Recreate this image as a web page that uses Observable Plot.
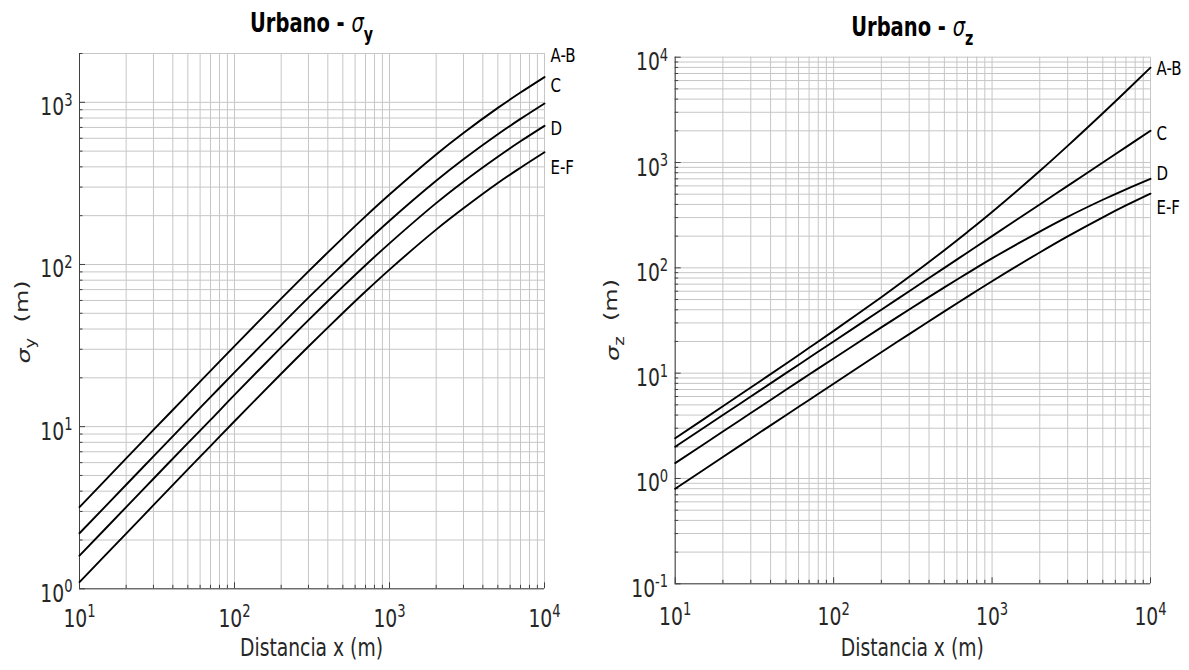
<!DOCTYPE html>
<html><head><meta charset="utf-8">
<script src="https://cdn.jsdelivr.net/npm/d3@7"></script>
<script src="https://cdn.jsdelivr.net/npm/@observablehq/plot@0.6"></script>
<style>
html,body{margin:0;padding:0;background:#fff;}
#fig{position:relative;width:1189px;height:670px;display:flex;overflow:hidden;}
#fig svg{display:block;flex:none;}
</style></head><body><div id="fig"></div>
<script>
// ---- data ----
const distances = [10, 20, 30, 50, 70, 100, 200, 300, 500, 700, 1000, 2000, 3000, 5000, 7000, 10000];
const classes = ["A-B", "C", "D", "E-F"];

const sigmaY_AB = [3.19, 6.37, 9.54, 15.8, 22.1, 31.4, 61.6, 90.7, 146, 198, 270, 477, 647, 924, 1149, 1431];
const sigmaY_C  = [2.20, 4.38, 6.56, 10.9, 15.2, 21.6, 42.3, 62.4, 100, 136, 186, 328, 445, 635, 790, 984];
const sigmaY_D  = [1.60, 3.19, 4.77, 7.92, 11.0, 15.7, 30.8, 45.4, 73.0, 99.0, 135, 239, 324, 462, 575, 716];
const sigmaY_EF = [1.10, 2.19, 3.28, 5.45, 7.59, 10.8, 21.2, 31.2, 50.2, 68.1, 93.0, 164, 222, 318, 395, 492];

const sigmaZ_AB = [2.41, 4.85, 7.31, 12.3, 17.4, 25.2, 52.6, 82.1, 147, 219, 339, 831, 1440, 2940, 4750, 7960];
const sigmaZ_C  = [2.00, 4.00, 6.00, 10.0, 14.0, 20.0, 40.0, 60.0, 100, 140, 200, 400, 600, 1000, 1400, 2000];
const sigmaZ_D  = [1.40, 2.79, 4.18, 6.95, 9.70, 13.8, 27.2, 40.2, 65.3, 89.1, 123, 221, 305, 443, 557, 700];
const sigmaZ_EF = [0.80, 1.60, 2.40, 3.99, 5.57, 7.94, 15.8, 23.5, 38.6, 53.3, 74.6, 140, 199, 302, 391, 506];

// curve-end label heights (data units)
const labelY_left  = [1936, 1267, 689, 397];
const labelY_right = [7820, 1884, 787, 374];

// axis domains and tick labels
const xDomain = [10, 10000];
const yDomainLeft = [1, 2000];
const yDomainRight = [0.1, 10000];
const xTicks = [10, 100, 1000, 10000];
const yTicksLeft = [1, 10, 100, 1000];
const yTicksRight = [0.1, 1, 10, 100, 1000, 10000];

const FONT = "'DejaVu Sans', sans-serif";
const SQUISH = 0.75;

function logGrid(domain) {
  const out = [];
  const k0 = Math.floor(Math.log10(domain[0]) + 1e-9), k1 = Math.ceil(Math.log10(domain[1]) - 1e-9);
  for (let k = k0; k <= k1; k++) for (let m = 1; m <= 9; m++) {
    const v = +(m * Math.pow(10, k)).toPrecision(3);
    if (v >= domain[0] * 0.9999 && v <= domain[1] * 1.0001) out.push(v);
  }
  return out;
}
const expFmt = d => "10^" + Math.round(Math.log10(d));

function panel(cfg) {
  const {width, height, ml, mr, mt, mb, yDomain, yTicks, series, labelY, xPad} = cfg;
  const fw = width - ml - mr, fh = height - mt - mb;
  const rows = [];
  series.forEach((vals, i) => vals.forEach((v, j) => rows.push({cls: classes[i], x: distances[j], v})));
  const xGrid = logGrid(xDomain), yGrid = logGrid(yDomain);
  const xMinor = xGrid.filter(d => !xTicks.includes(d));
  const yMinor = yGrid.filter(d => !yTicks.includes(d));
  const labels = classes.map((c, i) => ({c, y: labelY[i]}));
  const axisCol = "#404040";
  return Plot.plot({
    width, height, marginLeft: ml, marginRight: mr, marginTop: mt, marginBottom: mb,
    style: {fontFamily: FONT, fontSize: "25px", color: "#262626", background: "#fff", overflow: "visible"},
    x: {type: "log", domain: xDomain},
    y: {type: "log", domain: yDomain},
    marks: [
      Plot.ruleX(xGrid, {stroke: "#c6c6c6", strokeWidth: 1}),
      Plot.ruleY(yGrid, {stroke: "#c6c6c6", strokeWidth: 1}),
      Plot.ruleX([xDomain[0]], {stroke: axisCol, strokeWidth: 1}),
      Plot.ruleY([yDomain[0]], {stroke: axisCol, strokeWidth: 1}),
      Plot.tickY(yTicks, {y: d => d, insetRight: fw - 6, stroke: axisCol}),
      Plot.tickY(yMinor, {y: d => d, insetRight: fw - 3.5, stroke: axisCol}),
      Plot.tickX(xTicks, {x: d => d, insetTop: fh - 6, stroke: axisCol}),
      Plot.tickX(xMinor, {x: d => d, insetTop: fh - 3.5, stroke: axisCol}),
      Plot.axisX({anchor: "bottom", ticks: xTicks, tickSize: 0, tickPadding: xPad, tickFormat: expFmt, label: null, fill: "#262626", fontSize: 25}),
      Plot.axisY({anchor: "left", ticks: yTicks, tickSize: 0, tickPadding: 7, dy: 5, tickFormat: expFmt, label: null, fill: "#262626", fontSize: 25}),
      Plot.line(rows, {x: "x", y: "v", z: "cls", stroke: "#000", strokeWidth: 1.9, curve: "catmull-rom"}),
      Plot.text(labels, {x: () => xDomain[1], y: "y", text: "c", textAnchor: "start", dx: 6, fontSize: 20, fill: "#000"})
    ]
  });
}

const fig = document.getElementById("fig");
const left = panel({width: 595, height: 670, ml: 79, mr: 51, mt: 53, mb: 81.7,
  yDomain: yDomainLeft, yTicks: yTicksLeft, series: [sigmaY_AB, sigmaY_C, sigmaY_D, sigmaY_EF], labelY: labelY_left, xPad: 20});
const right = panel({width: 594, height: 670, ml: 79.7, mr: 39, mt: 56.7, mb: 86.7,
  yDomain: yDomainRight, yTicks: yTicksRight, series: [sigmaZ_AB, sigmaZ_C, sigmaZ_D, sigmaZ_EF], labelY: labelY_right, xPad: 23});
fig.appendChild(left);
fig.appendChild(right);

function decorate(svgNode, o) {
  const svg = d3.select(svgNode);
  // superscript exponents in tick labels
  svg.selectAll('g[aria-label="x-axis tick label"] text, g[aria-label="y-axis tick label"] text').each(function () {
    const t = d3.select(this);
    const s = t.text();
    const exp = s.split("^")[1];
    t.text("10");
    t.append("tspan").attr("dy", "-0.55em").attr("font-size", "0.7em").text(exp);
  });
  // title
  const title = svg.append("text").attr("x", o.cx).attr("y", o.titleY).attr("text-anchor", "middle")
    .attr("font-family", FONT).attr("font-size", 26).attr("fill", "#000");
  title.append("tspan").attr("font-weight", "bold").text("Urbano - ");
  title.append("tspan").attr("font-style", "italic").text("σ");
  title.append("tspan").attr("font-weight", "bold").attr("font-size", 19).attr("dy", "0.5em").text(o.sub);
  // x label
  svg.append("text").attr("x", o.cx).attr("y", 656).attr("text-anchor", "middle")
    .attr("font-family", FONT).attr("font-size", 25).attr("fill", "#262626").text("Distancia x (m)");
  // horizontal squish of all horizontal text about its anchor point
  svg.selectAll("text").each(function () {
    const bb = this.getBBox();
    const anchor = getComputedStyle(this).textAnchor;
    const ax = anchor === "middle" ? bb.x + bb.width / 2 : anchor === "end" ? bb.x + bb.width : bb.x;
    const tr = this.getAttribute("transform") || "";
    this.setAttribute("transform", `${tr} translate(${ax},0) scale(${SQUISH},1) translate(${-ax},0)`);
  });
  // y label (rotated: squish the glyph height, which is horizontal on screen)
  const yl = svg.append("text").attr("transform", `translate(${o.ylx},${o.yly}) rotate(-90) scale(1,${SQUISH})`)
    .attr("text-anchor", "middle").attr("font-family", FONT).attr("font-size", 24).attr("fill", "#262626");
  yl.append("tspan").attr("font-style", "italic").text("σ");
  yl.append("tspan").attr("font-size", 18).attr("dy", "0.35em").text(o.sub);
  yl.append("tspan").attr("dy", "-0.35em").text("\u00a0 (m)");
}
decorate(left, {cx: 311.5, titleY: 32, sub: "y", ylx: 30, yly: 322});
decorate(right, {cx: 317.3, titleY: 36, sub: "z", ylx: 24, yly: 320});
</script></body></html>
